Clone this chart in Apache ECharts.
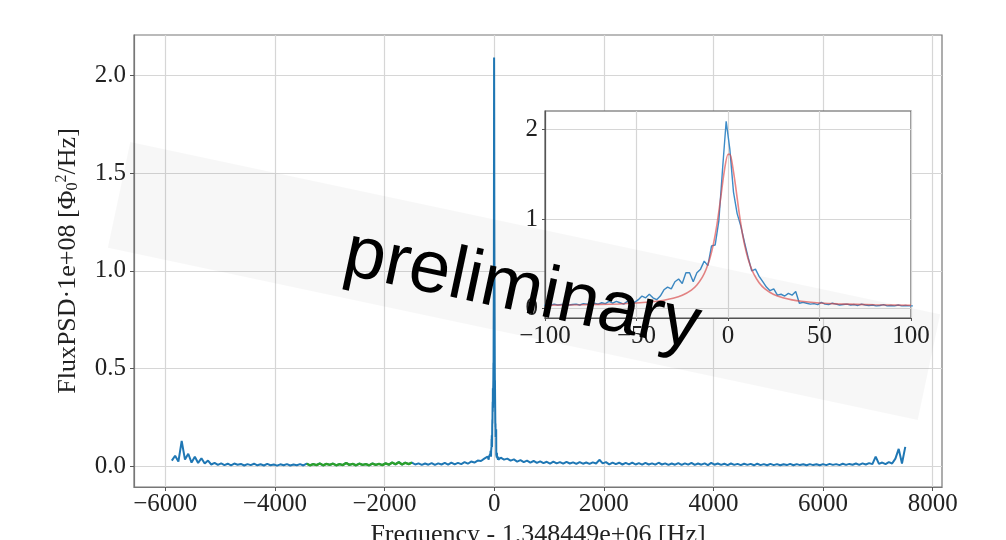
<!DOCTYPE html>
<html>
<head>
<meta charset="utf-8">
<script src="https://cdn.jsdelivr.net/npm/echarts@6/dist/echarts.min.js"></script>
<style>
  html, body { margin: 0; padding: 0; background: #fff; }
  #main { width: 1006px; height: 540px; }
</style>
</head>
<body>
<div id="main"></div>
<script>
// frequency bins of the coarse spectrum (Hz, offset from 1.348449e+06)
var leftStart = -5880, rightStart = 120, noiseStep = 60;
var insetStart = -101, insetStep = 2;
var greenFrom = -3460, greenTo = -1450;

// PSD (x 1e8) left of the line
var leftNoise = [
    0.03, 0.055, 0.025, 0.13, 0.035, 0.065, 0.02, 0.05, 0.018, 0.042,
    0.015, 0.03, 0.01, 0.018, 0.008, 0.016, 0.007, 0.014, 0.006, 0.015,
    0.009, 0.013, 0.005, 0.012, 0.007, 0.014, 0.006, 0.011, 0.005, 0.013,
    0.006, 0.01, 0.004, 0.011, 0.006, 0.012, 0.005, 0.01, 0.006, 0.012,
    0.005, 0.014, 0.006, 0.012, 0.007, 0.015, 0.006, 0.013, 0.008, 0.014,
    0.006, 0.012, 0.007, 0.018, 0.008, 0.013, 0.006, 0.014, 0.008, 0.012,
    0.006, 0.015, 0.008, 0.013, 0.007, 0.016, 0.009, 0.02, 0.011, 0.022,
    0.01, 0.019, 0.012, 0.02, 0.01, 0.016, 0.008, 0.015, 0.009, 0.017,
    0.008, 0.016, 0.01, 0.018, 0.009, 0.02, 0.011, 0.018, 0.012, 0.022,
    0.014, 0.025, 0.02, 0.03, 0.028, 0.04, 0.05
];

// PSD right of the line
var rightNoise = [
    0.045, 0.035, 0.04, 0.03, 0.036, 0.025, 0.032, 0.022, 0.03, 0.02,
    0.028, 0.018, 0.026, 0.017, 0.024, 0.015, 0.025, 0.016, 0.022, 0.014,
    0.023, 0.015, 0.021, 0.013, 0.022, 0.014, 0.02, 0.013, 0.021, 0.015,
    0.034, 0.016, 0.022, 0.011, 0.02, 0.012, 0.019, 0.01, 0.018, 0.011,
    0.02, 0.01, 0.017, 0.009, 0.018, 0.01, 0.016, 0.009, 0.019, 0.01,
    0.016, 0.008, 0.015, 0.009, 0.017, 0.008, 0.016, 0.009, 0.018, 0.008,
    0.015, 0.009, 0.016, 0.007, 0.018, 0.009, 0.015, 0.008, 0.014, 0.007,
    0.015, 0.008, 0.013, 0.007, 0.014, 0.008, 0.013, 0.006, 0.014, 0.007,
    0.012, 0.006, 0.013, 0.007, 0.012, 0.006, 0.011, 0.007, 0.013, 0.006,
    0.012, 0.007, 0.011, 0.006, 0.012, 0.007, 0.011, 0.006, 0.012, 0.007,
    0.013, 0.008, 0.012, 0.007, 0.014, 0.008, 0.013, 0.009, 0.015, 0.008,
    0.016, 0.01, 0.017, 0.012, 0.05, 0.013, 0.02, 0.012, 0.022, 0.015,
    0.04, 0.09, 0.015, 0.1
];

// fine-resolution PSD around the line (-101 .. 101 Hz)
var insetBlue = [
    0.04, 0.035, 0.04, 0.05, 0.04, 0.045, 0.05, 0.04, 0.045, 0.05,
    0.04, 0.055, 0.05, 0.045, 0.06, 0.05, 0.065, 0.055, 0.08, 0.06,
    0.08, 0.065, 0.05, 0.08, 0.09, 0.07, 0.1, 0.14, 0.12, 0.16,
    0.12, 0.1, 0.14, 0.21, 0.24, 0.22, 0.3, 0.33, 0.28, 0.4,
    0.4, 0.3, 0.4, 0.44, 0.53, 0.48, 0.7, 0.71, 0.98, 1.55,
    2.09, 1.78, 1.3, 1.06, 0.92, 0.74, 0.57, 0.42, 0.44, 0.36,
    0.3, 0.24, 0.2, 0.22, 0.15, 0.16, 0.14, 0.17, 0.15, 0.19,
    0.06, 0.07, 0.06, 0.05, 0.055, 0.045, 0.07, 0.05, 0.045, 0.06,
    0.05, 0.04, 0.045, 0.05, 0.04, 0.045, 0.035, 0.05, 0.04, 0.035,
    0.04, 0.03, 0.035, 0.045, 0.03, 0.035, 0.03, 0.04, 0.03, 0.035,
    0.03, 0.03
];

// fitted curve
var fitFreq = [-100, -80, -60, -50, -40, -35, -30, -25, -20, -17, -14, -12, -10, -8, -6, -4, -2, 0,
    1, 2, 4, 6, 8, 10, 12, 14, 17, 20, 25, 30, 35, 40, 50, 60, 80, 100];
var fitPsd = [0.038, 0.043, 0.052, 0.062, 0.079, 0.094, 0.115, 0.149, 0.207, 0.264, 0.351, 0.436, 0.553, 0.717, 0.943, 1.233, 1.538, 1.721,
    1.721, 1.655, 1.39, 1.081, 0.821, 0.628, 0.489, 0.39, 0.289, 0.224, 0.158, 0.121, 0.097, 0.082, 0.063, 0.053, 0.043, 0.038];

// tick labels
var xTicksMain = [-6000, -4000, -2000, 0, 2000, 4000, 6000, 8000];
var yTicksMain = [0, 0.5, 1, 1.5, 2];
var xTicksInset = [-100, -50, 0, 50, 100];
var yTicksInset = [0, 1, 2];

var serif = 'Liberation Serif';

var spectrum = [];
leftNoise.forEach(function (v, i) { spectrum.push([leftStart + i * noiseStep, v]); });
var insetData = [];
insetBlue.forEach(function (v, i) {
    insetData.push([insetStart + i * insetStep, v]);
    spectrum.push([insetStart + i * insetStep, v]);
});
rightNoise.forEach(function (v, i) { spectrum.push([rightStart + i * noiseStep, v]); });

var greenPart = spectrum.filter(function (p) { return p[0] >= greenFrom && p[0] <= greenTo; });
var fitData = fitFreq.map(function (f, i) { return [f, fitPsd[i]]; });

function near(v, step) { return Math.abs(v / step - Math.round(v / step)) < 1e-6; }
function minus(s) { return String(s).replace('-', '\u2212'); }

var labelStyle = { fontFamily: serif, fontSize: 25, color: '#222' };
var gridLine = { show: true, lineStyle: { color: '#d6d6d6', width: 1.2 } };

var option = {
    animation: false,
    grid: [
        { left: 134, right: 64, top: 35, bottom: 53, show: true, borderColor: '#777', borderWidth: 1.2,
          backgroundColor: 'transparent', outerBoundsMode: 'none', containLabel: false },
        { left: 545, right: 95, top: 111, bottom: 222, show: true, borderColor: '#555', borderWidth: 1.2,
          backgroundColor: '#fff', z: 5, outerBoundsMode: 'none', containLabel: false }
    ],
    xAxis: [{
        type: 'value', gridIndex: 0, min: -6570, max: 8170, splitNumber: 7,
        axisLine: { show: true, onZero: false, lineStyle: { color: '#777', width: 1.2 } },
        axisTick: { show: true, length: 4, customValues: xTicksMain, lineStyle: { color: '#555' } },
        axisLabel: Object.assign({ margin: 5, customValues: xTicksMain, formatter: function (v) {
            return near(v, 2000) ? minus(v) : '';
        } }, labelStyle),
        splitLine: gridLine,
        name: 'Frequency - 1.348449e+06 [Hz]', nameLocation: 'middle', nameGap: 30,
        nameTextStyle: { fontFamily: serif, fontSize: 26, color: '#222' }
    }, {
        type: 'value', gridIndex: 1, min: -100, max: 100, interval: 50, z: 6,
        axisLine: { show: true, onZero: false, lineStyle: { color: '#555', width: 1.2 } },
        axisTick: { show: true, length: 3, customValues: xTicksInset, lineStyle: { color: '#555' } },
        axisLabel: Object.assign({ margin: 6, customValues: xTicksInset, formatter: function (v) { return minus(v); } }, labelStyle),
        splitLine: gridLine
    }],
    yAxis: [{
        type: 'value', gridIndex: 0, min: -0.105, max: 2.205, splitNumber: 5,
        axisLine: { show: true, onZero: false, lineStyle: { color: '#777', width: 1.2 } },
        axisTick: { show: true, length: 4, customValues: yTicksMain, lineStyle: { color: '#555' } },
        axisLabel: Object.assign({ margin: 8, customValues: yTicksMain, formatter: function (v) {
            return near(v, 0.5) ? v.toFixed(1) : '';
        } }, labelStyle),
        splitLine: gridLine,
        name: '{n|FluxPSD\u00b71e+08 [\u03a6}{lo|0}{hi|2}{n|/Hz]}', nameLocation: 'middle', nameRotate: 90, nameGap: 46,
        nameTextStyle: {
            fontFamily: serif, fontSize: 26, color: '#222',
            rich: {
                n: { fontFamily: serif, fontSize: 26, color: '#222', lineHeight: 32, verticalAlign: 'middle' },
                lo: { fontFamily: serif, fontSize: 16, color: '#222', lineHeight: 32, verticalAlign: 'bottom', padding: [0, 0, 3, 0] },
                hi: { fontFamily: serif, fontSize: 16, color: '#222', lineHeight: 32, verticalAlign: 'top', padding: [2, 0, 0, 0] }
            }
        }
    }, {
        type: 'value', gridIndex: 1, min: -0.105, max: 2.205, splitNumber: 2, z: 6,
        axisLine: { show: true, onZero: false, lineStyle: { color: '#555', width: 1.2 } },
        axisTick: { show: true, length: 3, customValues: yTicksInset, lineStyle: { color: '#555' } },
        axisLabel: Object.assign({ margin: 7, customValues: yTicksInset, formatter: function (v) {
            return near(v, 1) ? String(Math.round(v)) : '';
        } }, labelStyle),
        splitLine: gridLine
    }],
    series: [{
        type: 'line', xAxisIndex: 0, yAxisIndex: 0, data: spectrum, showSymbol: false,
        lineStyle: { color: '#1f77b4', width: 2 }
    }, {
        type: 'line', xAxisIndex: 0, yAxisIndex: 0, data: greenPart, showSymbol: false,
        lineStyle: { color: '#2ca02c', width: 2.4 }
    }, {
        type: 'line', xAxisIndex: 1, yAxisIndex: 1, data: insetData, showSymbol: false, z: 7,
        lineStyle: { color: '#3d8cc8', width: 1.4 }
    }, {
        type: 'line', xAxisIndex: 1, yAxisIndex: 1, data: fitData, showSymbol: false, z: 8, smooth: 0.25,
        lineStyle: { color: 'rgba(222,70,70,0.65)', width: 1.6 }
    }],
    graphic: [{
        type: 'rect', x: 524, y: 281, rotation: -12 * Math.PI / 180, z: 50, silent: true,
        shape: { x: -414, y: -54, width: 828, height: 108 },
        style: { fill: 'rgba(0,0,0,0.032)' }
    }, {
        type: 'text', x: 522, y: 291, rotation: -12 * Math.PI / 180, z: 60, silent: true,
        style: {
            text: 'preliminary', fontFamily: 'Liberation Sans', fontSize: 74, fill: '#000',
            align: 'center', verticalAlign: 'middle',
            shadowBlur: 5, shadowColor: 'rgba(0,0,0,0.55)', shadowOffsetX: 3, shadowOffsetY: 3
        }
    }]
};

var myChart = echarts.init(document.getElementById('main'));
myChart.setOption(option);
</script>
</body>
</html>
